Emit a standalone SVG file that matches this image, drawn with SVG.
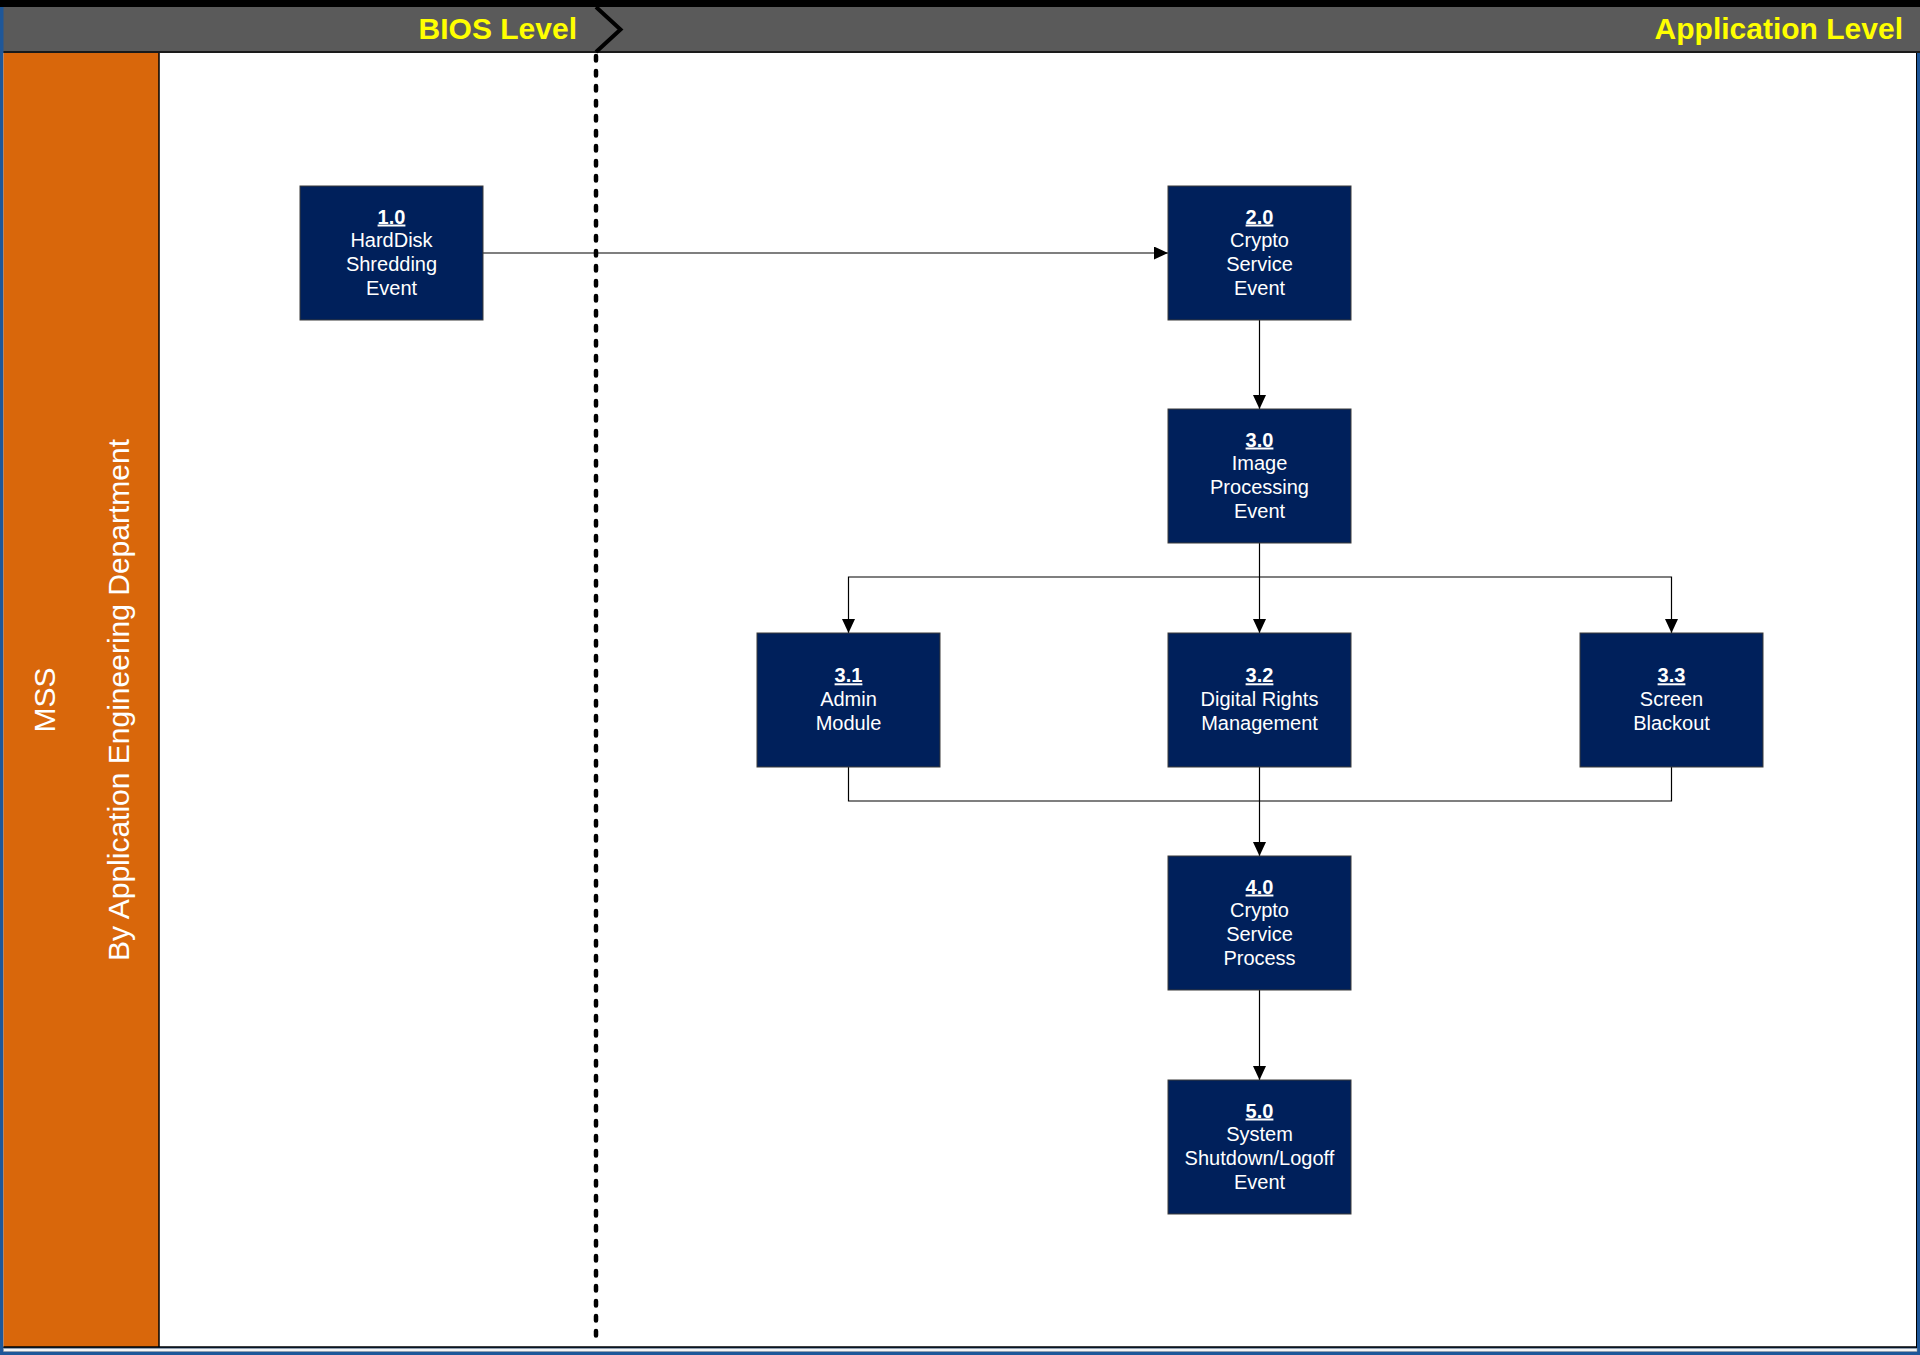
<svg xmlns="http://www.w3.org/2000/svg" width="1920" height="1355" viewBox="0 0 1920 1355">
<style>
.node rect{fill:#00205b;stroke:#3a3a3a;stroke-width:1}
.node text{font-family:"Liberation Sans",Arial,sans-serif;font-size:20px;fill:#ffffff;text-anchor:middle}
.node .t{font-weight:bold;text-decoration:underline}
.hdr{font-family:"Liberation Sans",Arial,sans-serif;font-size:30px;font-weight:bold;fill:#ffff00;text-anchor:end}
.lane{font-family:"Liberation Sans",Arial,sans-serif;font-size:30px;fill:#ffffff;text-anchor:middle}
#connectors path{fill:none;stroke:#000;stroke-width:1.2}
</style>
<defs>
<marker id="arr" markerUnits="userSpaceOnUse" markerWidth="14" markerHeight="13" refX="14" refY="6.5" orient="auto">
<path d="M0,0 L14,6.5 L0,13 z" fill="#000"/>
</marker>
</defs>
<g id="frame">
<rect x="0" y="0" width="1920" height="1355" fill="#1e5799"/>
<rect x="0" y="0" width="1920" height="7" fill="#000"/>
<rect x="3.5" y="7" width="1916.5" height="44.5" fill="#5a5a5a"/>
<rect x="3.5" y="51" width="1916.5" height="2" fill="#1a1a1a"/>
<rect x="3.5" y="53" width="1913" height="1294" fill="#ffffff"/>
<rect x="3.5" y="53" width="155.5" height="1294" fill="#d9670b"/>
<line x1="159" y1="53" x2="159" y2="1347" stroke="#000" stroke-width="1.5"/>
<line x1="3.5" y1="1347" x2="1917" y2="1347" stroke="#000" stroke-width="1.5"/>
<rect x="3.5" y="1348.5" width="1913.5" height="3" fill="#f4f4f4" stroke="#9a9a9a" stroke-width="0.5"/>
<line x1="1916.5" y1="53" x2="1916.5" y2="1348" stroke="#000" stroke-width="1"/>
<line x1="596" y1="56" x2="596" y2="1344" stroke="#000" stroke-width="4.5" stroke-linecap="round" stroke-dasharray="4.5 10.5"/>
<polyline points="596,7 620.5,29.5 596,52" fill="none" stroke="#000" stroke-width="4"/>
<text class="hdr" x="577" y="38.5">BIOS Level</text>
<text class="hdr" x="1903" y="38.5">Application Level</text>
<text class="lane" transform="translate(55,700) rotate(-90)">MSS</text>
<text class="lane" transform="translate(128.5,700) rotate(-90)">By Application Engineering Department</text>
</g>
<g id="connectors">
<path d="M483,253 H1168" marker-end="url(#arr)"/>
<path d="M1259.5,320 V409" marker-end="url(#arr)"/>
<path d="M1259.5,543 V633" marker-end="url(#arr)"/>
<path d="M1259.5,577 H848.5 V633" marker-end="url(#arr)"/>
<path d="M1259.5,577 H1671.5 V633" marker-end="url(#arr)"/>
<path d="M848.5,767 V801 H1259.5"/>
<path d="M1671.5,767 V801 H1259.5"/>
<path d="M1259.5,767 V856" marker-end="url(#arr)"/>
<path d="M1259.5,990 V1080" marker-end="url(#arr)"/>
</g>
<g id="n1" class="node">
<rect x="300" y="186" width="183" height="134"/>
<text class="t" x="391.5" y="223.5">1.0</text>
<text x="391.5" y="247.2">HardDisk</text>
<text x="391.5" y="270.9">Shredding</text>
<text x="391.5" y="294.5">Event</text>
</g>
<g id="n2" class="node">
<rect x="1168" y="186" width="183" height="134"/>
<text class="t" x="1259.5" y="223.5">2.0</text>
<text x="1259.5" y="247.2">Crypto</text>
<text x="1259.5" y="270.9">Service</text>
<text x="1259.5" y="294.5">Event</text>
</g>
<g id="n3" class="node">
<rect x="1168" y="409" width="183" height="134"/>
<text class="t" x="1259.5" y="446.5">3.0</text>
<text x="1259.5" y="470.2">Image</text>
<text x="1259.5" y="493.9">Processing</text>
<text x="1259.5" y="517.5">Event</text>
</g>
<g id="n31" class="node">
<rect x="757" y="633" width="183" height="134"/>
<text class="t" x="848.5" y="682.3">3.1</text>
<text x="848.5" y="706">Admin</text>
<text x="848.5" y="729.7">Module</text>
</g>
<g id="n32" class="node">
<rect x="1168" y="633" width="183" height="134"/>
<text class="t" x="1259.5" y="682.3">3.2</text>
<text x="1259.5" y="706">Digital Rights</text>
<text x="1259.5" y="729.7">Management</text>
</g>
<g id="n33" class="node">
<rect x="1580" y="633" width="183" height="134"/>
<text class="t" x="1671.5" y="682.3">3.3</text>
<text x="1671.5" y="706">Screen</text>
<text x="1671.5" y="729.7">Blackout</text>
</g>
<g id="n4" class="node">
<rect x="1168" y="856" width="183" height="134"/>
<text class="t" x="1259.5" y="893.5">4.0</text>
<text x="1259.5" y="917.2">Crypto</text>
<text x="1259.5" y="940.9">Service</text>
<text x="1259.5" y="964.5">Process</text>
</g>
<g id="n5" class="node">
<rect x="1168" y="1080" width="183" height="134"/>
<text class="t" x="1259.5" y="1117.5">5.0</text>
<text x="1259.5" y="1141.2">System</text>
<text x="1259.5" y="1164.9">Shutdown/Logoff</text>
<text x="1259.5" y="1188.5">Event</text>
</g>
</svg>
